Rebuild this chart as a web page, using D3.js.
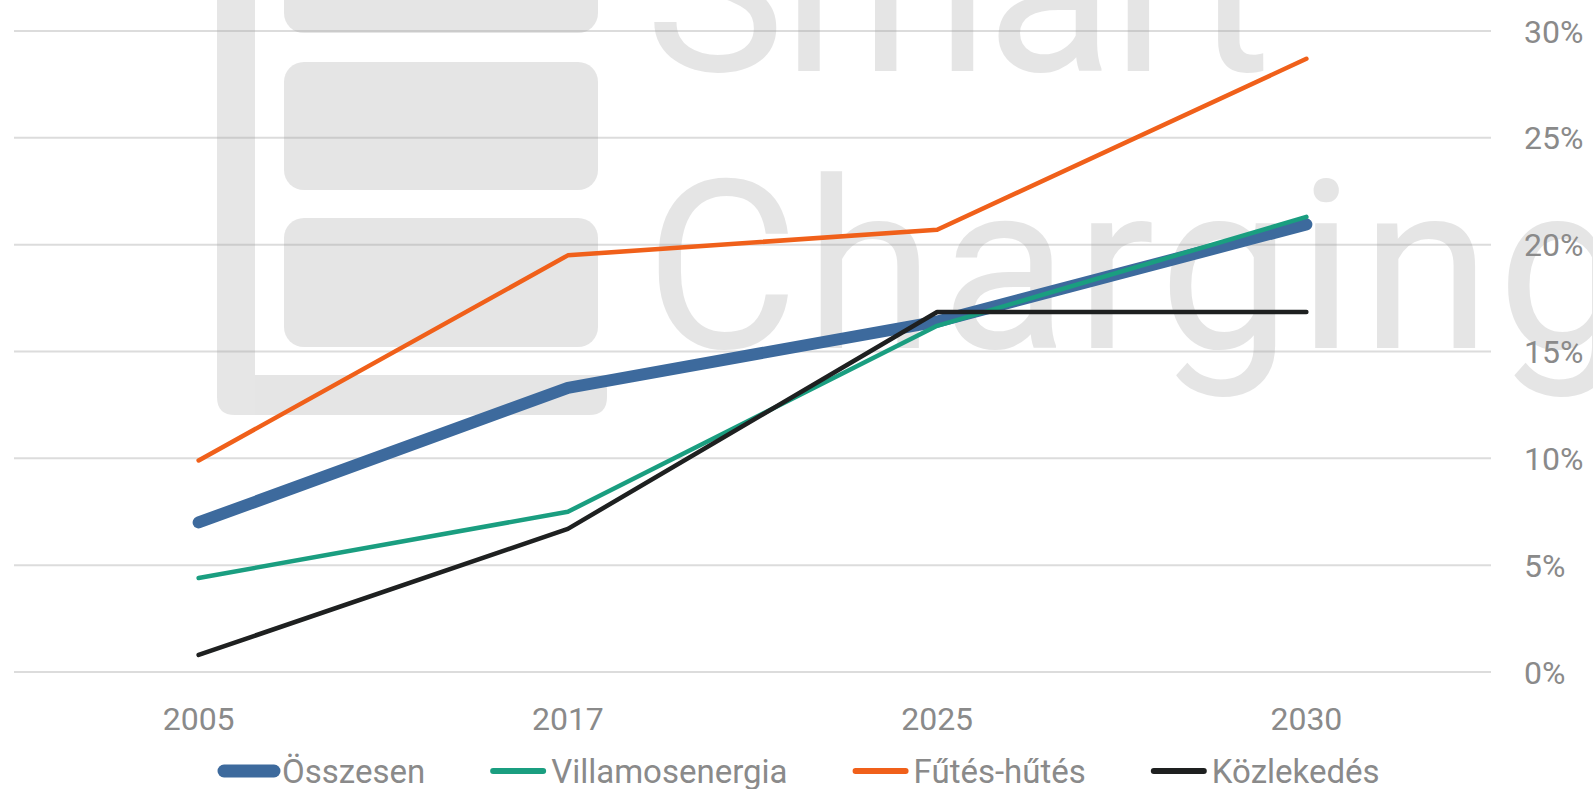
<!DOCTYPE html>
<html>
<head>
<meta charset="utf-8">
<script src="https://cdn.jsdelivr.net/npm/d3@7"></script>
<style>
  html, body { margin: 0; padding: 0; background: #fff; overflow: hidden; }
</style>
</head>
<body>
<div id="chart"></div>
<script>
// data (percent)
const years = ["2005", "2017", "2025", "2030"];
const osszesen = [7.0, 13.3, 16.4, 20.95];
const villamosenergia = [4.4, 7.5, 16.2, 21.3];
const futesHutes = [9.9, 19.5, 20.7, 28.7];
const kozlekedes = [0.8, 6.7, 16.85, 16.85];
const yTicks = [0, 5, 10, 15, 20, 25, 30];
const seriesNames = ["Összesen", "Villamosenergia", "Fűtés-hűtés", "Közlekedés"];

const colors = {"Összesen": "#3d6a9d", "Villamosenergia": "#1a9e80", "Fűtés-hűtés": "#f0601a", "Közlekedés": "#1e2020"};
const widths = {"Összesen": 12, "Villamosenergia": 4.5, "Fűtés-hűtés": 4.5, "Közlekedés": 4.5};
const seriesValues = [osszesen, villamosenergia, futesHutes, kozlekedes];

var W = 1593, H = 789;
var margin = {top: 31, right: 102, bottom: 117, left: 14};

var svg = d3.select("#chart")
  .append("svg")
  .attr("width", W)
  .attr("height", H);

const x = d3.scalePoint()
  .domain(years)
  .range([margin.left, W - margin.right])
  .padding(0.5);

const y = d3.scaleLinear()
  .domain([0, 30])
  .range([H - margin.bottom, margin.top]);

// gridlines
svg.append("g")
  .selectAll("line")
  .data(yTicks)
  .enter().append("line")
  .attr("x1", margin.left)
  .attr("x2", W - margin.right)
  .attr("y1", d => y(d))
  .attr("y2", d => y(d))
  .style("stroke", "#dcdcdc")
  .style("stroke-width", 2);

// watermark (logo + text), semi transparent so gridlines show through
var wm = svg.append("g").style("fill", "#9a9a9a").style("opacity", 0.25);
wm.append("path")
  .attr("d", "M217,-20 L255,-20 L255,375 L607,375 L607,397 Q607,415 589,415 L235,415 Q217,415 217,397 Z");
wm.append("rect").attr("x", 284).attr("y", -40).attr("width", 314).attr("height", 73).attr("rx", 20);
wm.append("rect").attr("x", 284).attr("y", 62).attr("width", 314).attr("height", 128).attr("rx", 20);
wm.append("rect").attr("x", 284).attr("y", 218).attr("width", 314).attr("height", 129).attr("rx", 20);
wm.append("text")
  .attr("x", 645).attr("y", 71)
  .attr("font-family", "Roboto")
  .attr("font-size", "236px")
  .attr("letter-spacing", "-3px")
  .text("Smart");
wm.append("text")
  .attr("x", 645).attr("y", 348)
  .attr("font-family", "Roboto")
  .attr("font-size", "236px")
  .attr("letter-spacing", "6px")
  .text("Charging");

// lines
const line = d3.line()
  .x((d, i) => x(years[i]))
  .y(d => y(d));

svg.append("g")
  .selectAll("path")
  .data(seriesNames)
  .enter().append("path")
  .attr("d", (d, i) => line(seriesValues[i]))
  .style("fill", "none")
  .style("stroke", d => colors[d])
  .style("stroke-width", d => widths[d])
  .style("stroke-linecap", "round")
  .style("stroke-linejoin", "round");

// y labels on the right
svg.append("g")
  .selectAll("text")
  .data(yTicks)
  .enter().append("text")
  .attr("x", 1524)
  .attr("y", d => y(d))
  .attr("dy", "0.36em")
  .attr("font-family", "Roboto")
  .attr("font-size", "32px")
  .style("fill", "#8a8a8a")
  .text(d => d + "%");

// x labels
svg.append("g")
  .selectAll("text")
  .data(years)
  .enter().append("text")
  .attr("x", d => x(d))
  .attr("y", 718)
  .attr("dy", "0.36em")
  .attr("text-anchor", "middle")
  .attr("font-family", "Roboto")
  .attr("font-size", "32px")
  .style("fill", "#8a8a8a")
  .text(d => d);

// legend
var legY = 771;
var legX = 218;
const swatchW = 62;
var legend = svg.append("g");
seriesNames.forEach(function(name){
  legend.append("line")
    .attr("x1", legX + 6)
    .attr("x2", legX + swatchW - 6)
    .attr("y1", legY)
    .attr("y2", legY)
    .style("stroke", colors[name])
    .style("stroke-width", name === "Összesen" ? 13 : 6)
    .style("stroke-linecap", "round");
  var t = legend.append("text")
    .attr("x", legX + swatchW + 2)
    .attr("y", legY)
    .attr("dy", "0.36em")
    .attr("font-family", "Roboto")
    .attr("font-size", "33px")
    .style("fill", "#8a8a8a")
    .text(name);
  legX += swatchW + 2 + t.node().getComputedTextLength() + 62;
});
</script>
</body>
</html>
